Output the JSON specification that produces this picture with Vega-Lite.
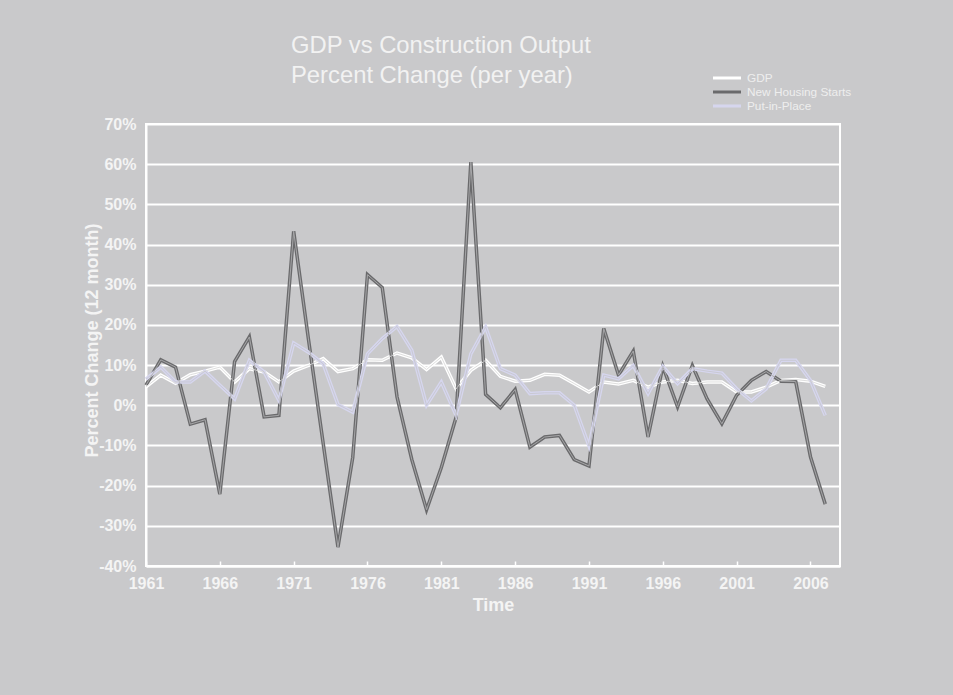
{
  "$schema": "https://vega.github.io/schema/vega-lite/v6.json",
  "autosize": {"type": "none"},
  "width": 694,
  "height": 442,
  "padding": {"left": 146, "top": 124, "right": 113, "bottom": 129},
  "background": "#c9c9cb",
  "title": {
    "text": ["GDP vs Construction Output", "Percent Change (per year)"],
    "anchor": "start",
    "frame": "group",
    "dx": 145,
    "offset": -16,
    "font": "Liberation Sans",
    "fontSize": 23.8,
    "fontWeight": "normal",
    "color": "#f2f2f2",
    "lineHeight": 30
  },
  "config": {
    "view": {"stroke": "#ffffff", "strokeWidth": 2, "fill": "#c9c9cb"},
    "axis": {
      "labelFont": "Liberation Sans",
      "titleFont": "Liberation Sans",
      "labelColor": "#f4f4f4",
      "titleColor": "#f4f4f4",
      "labelFontWeight": "bold",
      "titleFontWeight": "bold",
      "labelFontSize": 16,
      "titleFontSize": 18,
      "domainColor": "#ffffff",
      "domainWidth": 2,
      "gridColor": "#ffffff",
      "gridWidth": 2,
      "gridOpacity": 1,
      "tickColor": "#ffffff"
    },
    "legend": {
      "labelFont": "Liberation Sans",
      "labelColor": "#eeeeee",
      "labelFontSize": 11.8
    }
  },
  "data": {
    "values": [
      {"year":1961,"series":"GDP","value":4.6},{"year":1961,"series":"New Housing Starts","value":5.0},{"year":1961,"series":"Put-in-Place","value":6.5},
      {"year":1962,"series":"GDP","value":7.5},{"year":1962,"series":"New Housing Starts","value":11.3},{"year":1962,"series":"Put-in-Place","value":9.5},
      {"year":1963,"series":"GDP","value":5.5},{"year":1963,"series":"New Housing Starts","value":9.5},{"year":1963,"series":"Put-in-Place","value":5.8},
      {"year":1964,"series":"GDP","value":7.6},{"year":1964,"series":"New Housing Starts","value":-4.7},{"year":1964,"series":"Put-in-Place","value":5.8},
      {"year":1965,"series":"GDP","value":8.5},{"year":1965,"series":"New Housing Starts","value":-3.6},{"year":1965,"series":"Put-in-Place","value":8.5},
      {"year":1966,"series":"GDP","value":9.5},{"year":1966,"series":"New Housing Starts","value":-22.1},{"year":1966,"series":"Put-in-Place","value":5.0},
      {"year":1967,"series":"GDP","value":5.8},{"year":1967,"series":"New Housing Starts","value":10.9},{"year":1967,"series":"Put-in-Place","value":1.6},
      {"year":1968,"series":"GDP","value":9.1},{"year":1968,"series":"New Housing Starts","value":17.0},{"year":1968,"series":"Put-in-Place","value":11.2},
      {"year":1969,"series":"GDP","value":8.3},{"year":1969,"series":"New Housing Starts","value":-2.9},{"year":1969,"series":"Put-in-Place","value":8.3},
      {"year":1970,"series":"GDP","value":5.8},{"year":1970,"series":"New Housing Starts","value":-2.5},{"year":1970,"series":"Put-in-Place","value":1.2},
      {"year":1971,"series":"GDP","value":8.5},{"year":1971,"series":"New Housing Starts","value":43.3},{"year":1971,"series":"Put-in-Place","value":15.5},
      {"year":1972,"series":"GDP","value":9.9},{"year":1972,"series":"New Housing Starts","value":16.5},{"year":1972,"series":"Put-in-Place","value":13.2},
      {"year":1973,"series":"GDP","value":11.6},{"year":1973,"series":"New Housing Starts","value":-9.5},{"year":1973,"series":"Put-in-Place","value":10.3},
      {"year":1974,"series":"GDP","value":8.4},{"year":1974,"series":"New Housing Starts","value":-35.3},{"year":1974,"series":"Put-in-Place","value":0.2},
      {"year":1975,"series":"GDP","value":9.1},{"year":1975,"series":"New Housing Starts","value":-13.0},{"year":1975,"series":"Put-in-Place","value":-1.7},
      {"year":1976,"series":"GDP","value":11.3},{"year":1976,"series":"New Housing Starts","value":32.5},{"year":1976,"series":"Put-in-Place","value":12.8},
      {"year":1977,"series":"GDP","value":11.2},{"year":1977,"series":"New Housing Starts","value":29.3},{"year":1977,"series":"Put-in-Place","value":16.6},
      {"year":1978,"series":"GDP","value":13.0},{"year":1978,"series":"New Housing Starts","value":2.1},{"year":1978,"series":"Put-in-Place","value":19.6},
      {"year":1979,"series":"GDP","value":11.8},{"year":1979,"series":"New Housing Starts","value":-13.5},{"year":1979,"series":"Put-in-Place","value":13.7},
      {"year":1980,"series":"GDP","value":8.9},{"year":1980,"series":"New Housing Starts","value":-26.0},{"year":1980,"series":"Put-in-Place","value":0.0},
      {"year":1981,"series":"GDP","value":12.0},{"year":1981,"series":"New Housing Starts","value":-15.5},{"year":1981,"series":"Put-in-Place","value":5.8},
      {"year":1982,"series":"GDP","value":4.1},{"year":1982,"series":"New Housing Starts","value":-3.0},{"year":1982,"series":"Put-in-Place","value":-2.5},
      {"year":1983,"series":"GDP","value":8.7},{"year":1983,"series":"New Housing Starts","value":60.5},{"year":1983,"series":"Put-in-Place","value":12.8},
      {"year":1984,"series":"GDP","value":11.2},{"year":1984,"series":"New Housing Starts","value":2.7},{"year":1984,"series":"Put-in-Place","value":19.5},
      {"year":1985,"series":"GDP","value":7.2},{"year":1985,"series":"New Housing Starts","value":-0.6},{"year":1985,"series":"Put-in-Place","value":9.1},
      {"year":1986,"series":"GDP","value":6.0},{"year":1986,"series":"New Housing Starts","value":3.9},{"year":1986,"series":"Put-in-Place","value":7.5},
      {"year":1987,"series":"GDP","value":6.2},{"year":1987,"series":"New Housing Starts","value":-10.4},{"year":1987,"series":"Put-in-Place","value":2.9},
      {"year":1988,"series":"GDP","value":7.7},{"year":1988,"series":"New Housing Starts","value":-7.9},{"year":1988,"series":"Put-in-Place","value":3.1},
      {"year":1989,"series":"GDP","value":7.5},{"year":1989,"series":"New Housing Starts","value":-7.5},{"year":1989,"series":"Put-in-Place","value":3.1},
      {"year":1990,"series":"GDP","value":5.4},{"year":1990,"series":"New Housing Starts","value":-13.5},{"year":1990,"series":"Put-in-Place","value":0.0},
      {"year":1991,"series":"GDP","value":3.3},{"year":1991,"series":"New Housing Starts","value":-15.1},{"year":1991,"series":"Put-in-Place","value":-10.1},
      {"year":1992,"series":"GDP","value":5.8},{"year":1992,"series":"New Housing Starts","value":19.1},{"year":1992,"series":"Put-in-Place","value":7.5},
      {"year":1993,"series":"GDP","value":5.3},{"year":1993,"series":"New Housing Starts","value":7.5},{"year":1993,"series":"Put-in-Place","value":6.6},
      {"year":1994,"series":"GDP","value":6.2},{"year":1994,"series":"New Housing Starts","value":13.5},{"year":1994,"series":"Put-in-Place","value":9.9},
      {"year":1995,"series":"GDP","value":4.5},{"year":1995,"series":"New Housing Starts","value":-7.9},{"year":1995,"series":"Put-in-Place","value":2.9},
      {"year":1996,"series":"GDP","value":5.8},{"year":1996,"series":"New Housing Starts","value":9.7},{"year":1996,"series":"Put-in-Place","value":9.7},
      {"year":1997,"series":"GDP","value":6.2},{"year":1997,"series":"New Housing Starts","value":-0.4},{"year":1997,"series":"Put-in-Place","value":5.4},
      {"year":1998,"series":"GDP","value":5.4},{"year":1998,"series":"New Housing Starts","value":9.9},{"year":1998,"series":"Put-in-Place","value":9.1},
      {"year":1999,"series":"GDP","value":5.8},{"year":1999,"series":"New Housing Starts","value":1.6},{"year":1999,"series":"Put-in-Place","value":8.5},
      {"year":2000,"series":"GDP","value":5.8},{"year":2000,"series":"New Housing Starts","value":-4.6},{"year":2000,"series":"Put-in-Place","value":8.0},
      {"year":2001,"series":"GDP","value":3.3},{"year":2001,"series":"New Housing Starts","value":2.5},{"year":2001,"series":"Put-in-Place","value":4.1},
      {"year":2002,"series":"GDP","value":3.3},{"year":2002,"series":"New Housing Starts","value":6.2},{"year":2002,"series":"Put-in-Place","value":1.1},
      {"year":2003,"series":"GDP","value":4.5},{"year":2003,"series":"New Housing Starts","value":8.4},{"year":2003,"series":"Put-in-Place","value":4.1},
      {"year":2004,"series":"GDP","value":6.2},{"year":2004,"series":"New Housing Starts","value":6.0},{"year":2004,"series":"Put-in-Place","value":11.2},
      {"year":2005,"series":"GDP","value":6.4},{"year":2005,"series":"New Housing Starts","value":5.9},{"year":2005,"series":"Put-in-Place","value":11.2},
      {"year":2006,"series":"GDP","value":6.0},{"year":2006,"series":"New Housing Starts","value":-12.8},{"year":2006,"series":"Put-in-Place","value":6.2},
      {"year":2007,"series":"GDP","value":4.7},{"year":2007,"series":"New Housing Starts","value":-24.6},{"year":2007,"series":"Put-in-Place","value":-2.5}
    ]
  },
  "encoding": {
    "x": {
      "field": "year", "type": "quantitative",
      "scale": {"domain": [1961, 2008], "nice": false, "zero": false},
      "axis": {
        "title": "Time",
        "values": [1961, 1966, 1971, 1976, 1981, 1986, 1991, 1996, 2001, 2006],
        "format": "d",
        "grid": false,
        "tickSize": -5,
        "tickWidth": 1.5,
        "labelPadding": 14,
        "titlePadding": 5,
        "labelFlush": false
      }
    },
    "y": {
      "field": "value", "type": "quantitative",
      "scale": {"domain": [-40, 70], "nice": false},
      "axis": {
        "title": "Percent Change (12 month)",
        "values": [-40, -30, -20, -10, 0, 10, 20, 30, 40, 50, 60, 70],
        "labelExpr": "datum.value + '%'",
        "ticks": false,
        "labelPadding": 10,
        "titleX": -54,
        "titleY": 216,
        "titleBaseline": "middle",
        "titleAlign": "center"
      }
    }
  },
  "layer": [
    {
      "mark": {"type": "line", "strokeWidth": 3.5},
      "encoding": {
        "color": {
          "field": "series", "type": "nominal",
          "scale": {"domain": ["Put-in-Place", "GDP", "New Housing Starts"], "range": ["#d6d6ee", "#ffffff", "#6a6a6c"]},
          "legend": {
            "title": null,
            "orient": "none",
            "legendX": 574.5,
            "legendY": -52.5,
            "values": ["GDP", "New Housing Starts", "Put-in-Place"],
            "symbolType": "M-2.8,0H2.8",
            "symbolStrokeWidth": 3,
            "symbolSize": 100,
            "rowPadding": 0,
            "labelOffset": 13.5
          }
        },
        "order": {"field": "year"}
      }
    },
    {
      "mark": {"type": "line", "strokeWidth": 1},
      "encoding": {
        "color": {
          "field": "series", "type": "nominal",
          "scale": {"domain": ["Put-in-Place", "GDP", "New Housing Starts"], "range": ["#c9c9d3", "#dedede", "#a6a6a8"]},
          "legend": null
        },
        "order": {"field": "year"}
      }
    }
  ],
  "resolve": {"scale": {"color": "independent"}}
}
